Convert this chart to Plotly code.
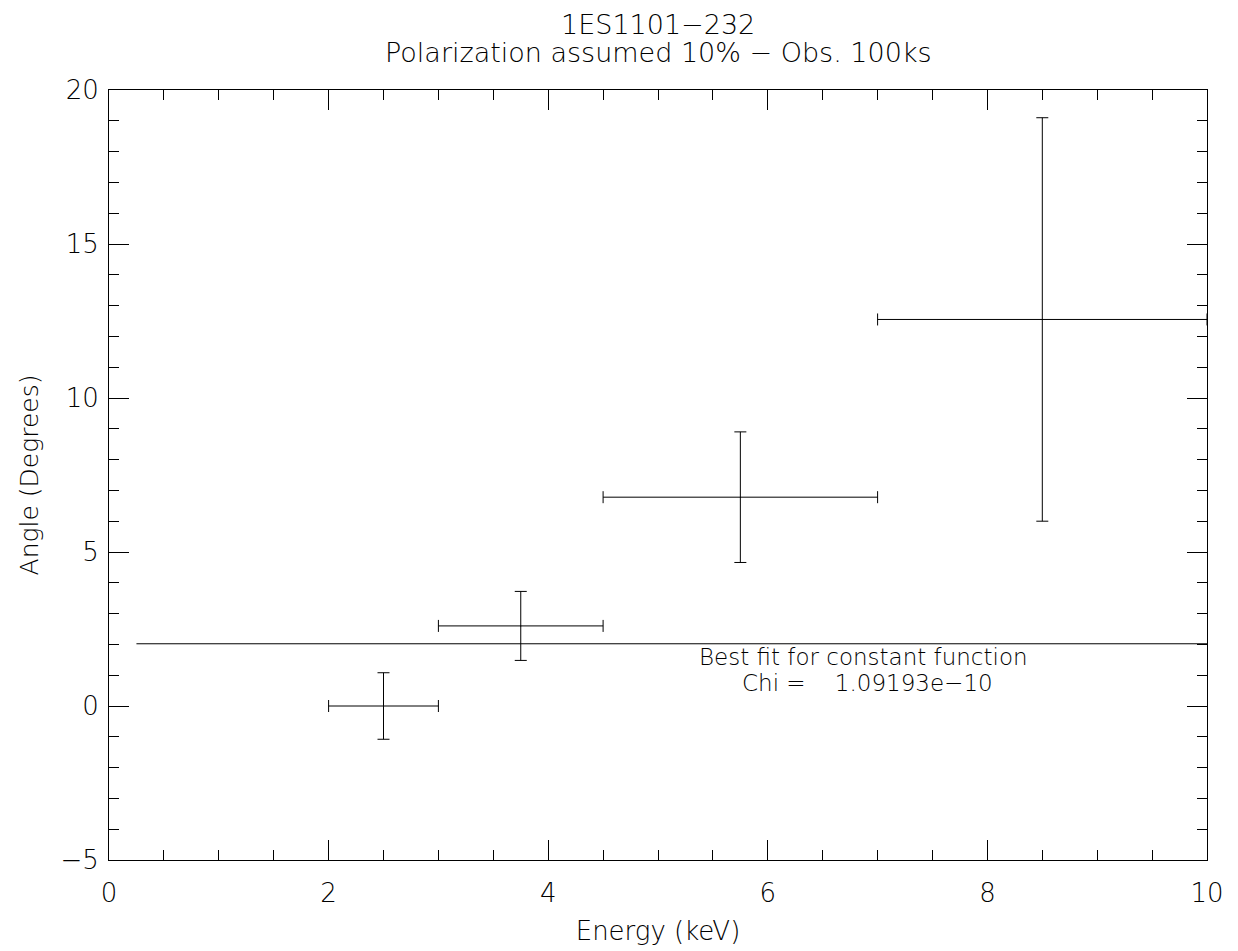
import plotly.graph_objects as go

# Data
energy = [2.5, 3.75, 5.75, 8.5]
energy_halfwidth = [0.5, 0.75, 1.25, 1.5]
angle = [0.0, 2.6, 6.78, 12.55]
angle_err = [1.08, 1.12, 2.12, 6.55]

fit_x = [0.25, 10.0]
fit_value = 2.02
fit_y = [fit_value, fit_value]

title_line1 = "1ES1101\u2212232"
title_line2 = "Polarization assumed 10% \u2212 Obs. 100ks"
fit_label1 = "Best fit for constant function"
fit_label2 = "Chi =    1.09193e\u221210"

FONT = "DejaVu Sans"
W = 200

fig = go.Figure()

fig.add_trace(go.Scatter(
    x=fit_x, y=fit_y, mode="lines",
    line=dict(color="black", width=1), showlegend=False, hoverinfo="skip"))

fig.add_trace(go.Scatter(
    x=energy, y=angle, mode="markers",
    marker=dict(size=1, color="black"),
    error_x=dict(type="data", array=energy_halfwidth, color="black", thickness=1, width=6),
    error_y=dict(type="data", array=angle_err, color="black", thickness=1, width=6),
    showlegend=False))

axis_common = dict(
    showgrid=False, zeroline=False, showline=True, linecolor="black", linewidth=1,
    mirror="allticks", ticks="inside", tickcolor="black", tickwidth=1,
    tickfont=dict(family=FONT, size=26, color="black", weight=W),
)

fig.update_xaxes(
    range=[0, 10], tickvals=[0, 2, 4, 6, 8, 10], ticklen=20,
    minor=dict(dtick=0.5, tick0=0, ticks="inside", ticklen=10, tickcolor="black", tickwidth=1),
    title=dict(text="Energy (keV)", font=dict(family=FONT, size=26, color="black", weight=W), standoff=14),
    ticklabelstandoff=10,
    **axis_common)
fig.update_yaxes(
    range=[-5, 20], tickvals=[-5, 0, 5, 10, 15, 20], ticklen=20,
    minor=dict(dtick=1, tick0=0, ticks="inside", ticklen=10, tickcolor="black", tickwidth=1),
    title=dict(text="Angle (Degrees)", font=dict(family=FONT, size=25, color="black", weight=W), standoff=14),
    ticklabelstandoff=4,
    **axis_common)

fig.add_annotation(x=0.5, y=1.0, xref="paper", yref="paper", yanchor="middle", yshift=66,
                   text=title_line1, showarrow=False,
                   font=dict(family=FONT, size=27, color="black", weight=W))
fig.add_annotation(x=0.5, y=1.0, xref="paper", yref="paper", yanchor="middle", yshift=38,
                   text=title_line2, showarrow=False,
                   font=dict(family=FONT, size=27, color="black", weight=W))
fig.add_annotation(x=6.87, y=1.59, xref="x", yref="y", text=fit_label1, showarrow=False,
                   font=dict(family=FONT, size=23, color="black", weight=W))
fig.add_annotation(x=6.91, y=0.75, xref="x", yref="y", text=fit_label2, showarrow=False,
                   font=dict(family=FONT, size=23, color="black", weight=W))

fig.update_layout(
    width=1238, height=951,
    margin=dict(l=101, r=39, t=82, b=99),
    paper_bgcolor="white", plot_bgcolor="white",
    font=dict(family=FONT, color="black"),
)

fig.write_html("out.html")
